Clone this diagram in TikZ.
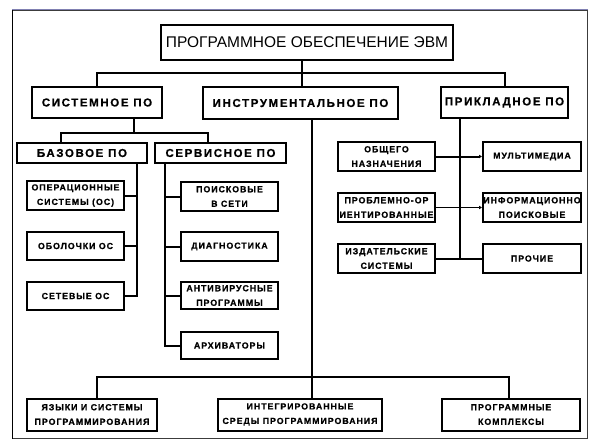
\documentclass[tikz,border=0pt]{standalone}
\usepackage{fontspec}
\setmainfont{Liberation Sans}
\newfontfamily\lblfont[LetterSpace=14, BoldFeatures={FakeBold=0.6}]{Liberation Sans}
\newfontfamily\smfont[LetterSpace=11, BoldFeatures={FakeBold=0.8}]{Liberation Sans}
\usetikzlibrary{arrows.meta}
\definecolor{frametop}{RGB}{128,128,178}
\definecolor{framegray}{RGB}{60,60,60}
\tikzset{
  box/.style={draw=black, line width=2pt, inner sep=0pt, align=center, fill=white},
  bigbox/.style={box, font=\fontsize{11.5}{13}\selectfont\lblfont\bfseries},
  smbox/.style={box, font=\fontsize{8.8}{14.5}\selectfont\smfont\bfseries},
  titlebox/.style={box, font=\fontsize{15.5}{18}\selectfont},
  conn/.style={line width=2pt, line cap=rect},
  thinconn/.style={line width=1.2pt},
  tip/.style={-{Latex[length=3pt,width=4pt]}}
}
\begin{document}
\begin{tikzpicture}[x=1pt,y=-1pt]
\useasboundingbox (0,0) rectangle (590,440);
% frame
\draw[line width=1.2pt, framegray] (12.5,10) rectangle (587.5,438.5);
\draw[line width=1.5pt, frametop] (12,9.3) -- (588,9.3);
\draw[line width=1.2pt, black] (12.5,10) -- (12.5,438.5);

% nodes
\node[titlebox, minimum width=292, minimum height=35] (title) at (307,42.5) {ПРОГРАММНОЕ ОБЕСПЕЧЕНИЕ ЭВМ};

\node[bigbox, minimum width=130, minimum height=31] (sys) at (97,102.5) {СИСТЕМНОЕ ПО};
\node[bigbox, minimum width=195, minimum height=32] (instr) at (300.5,103) {ИНСТРУМЕНТАЛЬНОЕ ПО};
\node[bigbox, minimum width=127, minimum height=31] (prikl) at (504.5,102.5) {ПРИКЛАДНОЕ ПО};

\node[bigbox, minimum width=130, minimum height=20] (baz) at (82,153) {БАЗОВОЕ ПО};
\node[bigbox, minimum width=131, minimum height=20] (serv) at (220.5,153) {СЕРВИСНОЕ ПО};

\node[smbox, minimum width=97, minimum height=29] (os) at (75.5,195.5) {ОПЕРАЦИОННЫЕ\\СИСТЕМЫ (ОС)};
\node[smbox, minimum width=97, minimum height=28] (obol) at (75.5,246) {ОБОЛОЧКИ ОС};
\node[smbox, minimum width=97, minimum height=28] (set) at (75.5,296) {СЕТЕВЫЕ ОС};

\node[smbox, minimum width=97, minimum height=29] (poisk) at (229.5,196.5) {ПОИСКОВЫЕ\\В СЕТИ};
\node[smbox, minimum width=97, minimum height=29] (diag) at (229.5,246.5) {ДИАГНОСТИКА};
\node[smbox, minimum width=97, minimum height=27] (anti) at (229.5,295.5) {АНТИВИРУСНЫЕ\\ПРОГРАММЫ};
\node[smbox, minimum width=97, minimum height=27] (arch) at (229.5,345.5) {АРХИВАТОРЫ};

\node[smbox, minimum width=97, minimum height=29] (obsh) at (386.5,156.5) {ОБЩЕГО\\НАЗНАЧЕНИЯ};
\node[smbox, minimum width=97, minimum height=29] (probl) at (386.5,207.5) {ПРОБЛЕМНО-ОР\\ИЕНТИРОВАННЫЕ};
\node[smbox, minimum width=97, minimum height=29] (izd) at (386.5,258.5) {ИЗДАТЕЛЬСКИЕ\\СИСТЕМЫ};

\node[smbox, minimum width=98, minimum height=29] (mult) at (532,156.5) {МУЛЬТИМЕДИА};
\node[smbox, minimum width=98, minimum height=29] (inf) at (532,207.5) {ИНФОРМАЦИОННО\\ПОИСКОВЫЕ};
\node[smbox, minimum width=98, minimum height=29] (proch) at (532,258.5) {ПРОЧИЕ};

\node[smbox, minimum width=130, minimum height=32] (yaz) at (92,414.5) {ЯЗЫКИ И СИСТЕМЫ\\ПРОГРАММИРОВАНИЯ};
\node[smbox, minimum width=164, minimum height=32] (integ) at (300,414.5) {ИНТЕГРИРОВАННЫЕ\\СРЕДЫ ПРОГРАММИРОВАНИЯ};
\node[smbox, minimum width=138, minimum height=32] (progk) at (511,414.5) {ПРОГРАММНЫЕ\\КОМПЛЕКСЫ};

% junction coordinates
\coordinate (jtop) at (302,73);
\coordinate (jsys) at (134,133);
\coordinate (jbazL) at (61,133);
\coordinate (jservR) at (208,133);
\coordinate (vbaz) at (137,0);
\coordinate (vserv) at (165,0);
\coordinate (vprikl) at (460,0);
\coordinate (vinstr) at (312,0);
\coordinate (jbot) at (312,377);
\coordinate (jbotL) at (97,377);
\coordinate (jbotR) at (509,377);

% top level
\draw[conn] (title.south -| jtop) -- (instr.north -| jtop);
\draw[conn] (sys.north) -- (sys.north |- jtop) -- (prikl.north |- jtop) -- (prikl.north);

% system
\draw[conn] (sys.south -| jsys) -- (jsys);
\draw[conn] (baz.north -| jbazL) -- (jbazL) -- (jservR) -- (serv.north -| jservR);

% base
\draw[conn] (baz.south -| vbaz) -- (set.east -| vbaz) -- (set.east);
\draw[conn] (os.east) -- (os.east -| vbaz);
\draw[conn] (obol.east) -- (obol.east -| vbaz);

% service
\draw[conn] (serv.south -| vserv) -- (arch.west -| vserv) -- (arch.west);
\draw[conn] (poisk.west -| vserv) -- (poisk.west);
\draw[conn] (diag.west -| vserv) -- (diag.west);
\draw[conn] (anti.west -| vserv) -- (anti.west);

% applied
\draw[conn] (prikl.south -| vprikl) -- (izd.east -| vprikl);
\draw[conn, tip] (obsh.east) -- (mult.west);
\draw[thinconn, tip] (probl.east) -- (inf.west);
\draw[conn] (izd.east) -- (proch.west);

% instrumental
\draw[conn] (instr.south -| vinstr) -- (integ.north -| vinstr);
\draw[conn] (yaz.north -| jbotL) -- (jbotL) -- (jbotR) -- (progk.north -| jbotR);
\end{tikzpicture}
\end{document}
